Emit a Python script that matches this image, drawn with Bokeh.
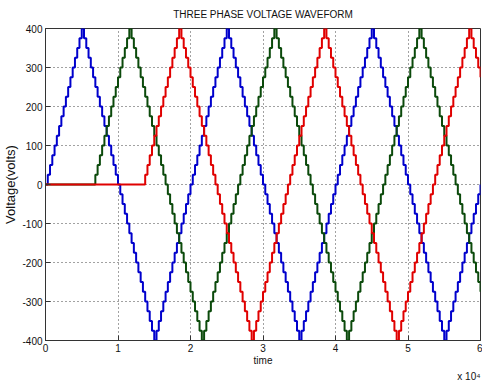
import numpy as np
from bokeh.plotting import figure
from bokeh.models import Range1d, FixedTicker, Title
from bokeh.embed import file_html
from bokeh.resources import INLINE

# ---------------- data ----------------
title_text = "THREE PHASE VOLTAGE WAVEFORM"
x_label = "time"
y_label = "Voltage(volts)"
x_scale_note = "x 10\u2074"
x_ticks = [0, 10000, 20000, 30000, 40000, 50000, 60000]
x_tick_labels = ["0", "1", "2", "3", "4", "5", "6"]
y_ticks = [-400, -300, -200, -100, 0, 100, 200, 300, 400]
y_tick_labels = ["-400", "-300", "-200", "-100", "0", "100", "200", "300", "400"]

# sample instants (uniform sampling grid of the staircase waveform)
time = np.arange(193) * 312.5

phase_a_blue = [
    0, 25, 50, 75, 100, 125, 150, 175, 200, 225, 250, 275, 300, 325, 350, 375,
    400, 375, 350, 325, 300, 275, 250, 225, 200, 175, 150, 125, 100, 75, 50, 25,
    0, -25, -50, -75, -100, -125, -150, -175, -200, -225, -250, -275, -300, -325, -350, -375,
    -400, -375, -350, -325, -300, -275, -250, -225, -200, -175, -150, -125, -100, -75, -50, -25,
    0, 25, 50, 75, 100, 125, 150, 175, 200, 225, 250, 275, 300, 325, 350, 375,
    400, 375, 350, 325, 300, 275, 250, 225, 200, 175, 150, 125, 100, 75, 50, 25,
    0, -25, -50, -75, -100, -125, -150, -175, -200, -225, -250, -275, -300, -325, -350, -375,
    -400, -375, -350, -325, -300, -275, -250, -225, -200, -175, -150, -125, -100, -75, -50, -25,
    0, 25, 50, 75, 100, 125, 150, 175, 200, 225, 250, 275, 300, 325, 350, 375,
    400, 375, 350, 325, 300, 275, 250, 225, 200, 175, 150, 125, 100, 75, 50, 25,
    0, -25, -50, -75, -100, -125, -150, -175, -200, -225, -250, -275, -300, -325, -350, -375,
    -400, -375, -350, -325, -300, -275, -250, -225, -200, -175, -150, -125, -100, -75, -50, -25,
    0,
]

phase_b_green = [
    0, 0, 0, 0, 0, 0, 0, 0, 0, 0, 0, 0, 0, 0, 0, 0, 0, 0, 0, 0, 0,
    0, 25, 50, 75, 100, 125, 150, 175, 200, 225, 250, 275, 300, 325, 350, 375,
    400, 375, 350, 325, 300, 275, 250, 225, 200, 175, 150, 125, 100, 75, 50, 25,
    0, -25, -50, -75, -100, -125, -150, -175, -200, -225, -250, -275, -300, -325, -350, -375,
    -400, -375, -350, -325, -300, -275, -250, -225, -200, -175, -150, -125, -100, -75, -50, -25,
    0, 25, 50, 75, 100, 125, 150, 175, 200, 225, 250, 275, 300, 325, 350, 375,
    400, 375, 350, 325, 300, 275, 250, 225, 200, 175, 150, 125, 100, 75, 50, 25,
    0, -25, -50, -75, -100, -125, -150, -175, -200, -225, -250, -275, -300, -325, -350, -375,
    -400, -375, -350, -325, -300, -275, -250, -225, -200, -175, -150, -125, -100, -75, -50, -25,
    0, 25, 50, 75, 100, 125, 150, 175, 200, 225, 250, 275, 300, 325, 350, 375,
    400, 375, 350, 325, 300, 275, 250, 225, 200, 175, 150, 125, 100, 75, 50, 25,
    0, -25, -50, -75, -100, -125, -150, -175, -200, -225, -250, -275,
]

phase_c_red = [
    0, 0, 0, 0, 0, 0, 0, 0, 0, 0, 0, 0, 0, 0, 0, 0, 0, 0, 0, 0,
    0, 0, 0, 0, 0, 0, 0, 0, 0, 0, 0, 0, 0, 0, 0, 0, 0, 0, 0, 0, 0, 0, 0,
    0, 25, 50, 75, 100, 125, 150, 175, 200, 225, 250, 275, 300, 325, 350, 375,
    400, 375, 350, 325, 300, 275, 250, 225, 200, 175, 150, 125, 100, 75, 50, 25,
    0, -25, -50, -75, -100, -125, -150, -175, -200, -225, -250, -275, -300, -325, -350, -375,
    -400, -375, -350, -325, -300, -275, -250, -225, -200, -175, -150, -125, -100, -75, -50, -25,
    0, 25, 50, 75, 100, 125, 150, 175, 200, 225, 250, 275, 300, 325, 350, 375,
    400, 375, 350, 325, 300, 275, 250, 225, 200, 175, 150, 125, 100, 75, 50, 25,
    0, -25, -50, -75, -100, -125, -150, -175, -200, -225, -250, -275, -300, -325, -350, -375,
    -400, -375, -350, -325, -300, -275, -250, -225, -200, -175, -150, -125, -100, -75, -50, -25,
    0, 25, 50, 75, 100, 125, 150, 175, 200, 225, 250, 275, 300, 325, 350, 375,
    400, 375, 350, 325, 300, 275,
]

# ---------------- figure ----------------
FONT = "Liberation Sans"
AX = "#333333"
TXT = "#111111"

p = figure(width=482, height=381, output_backend="svg", toolbar_location=None,
           x_range=Range1d(x_ticks[0], x_ticks[-1]),
           y_range=Range1d(y_ticks[0], y_ticks[-1]),
           min_border_left=44, min_border_right=2,
           min_border_top=28, min_border_bottom=39)
p.background_fill_color = "white"
p.border_fill_color = "white"
p.outline_line_color = AX
p.outline_line_width = 1

p.title.text = title_text
p.title.align = "center"
p.title.vertical_align = "top"
p.title.text_font = FONT
p.title.text_font_size = "10px"
p.title.text_font_style = "normal"
p.title.text_color = TXT
p.title.offset = 0
p.title.standoff = 14

xt = FixedTicker(ticks=x_ticks)
yt = FixedTicker(ticks=y_ticks)

for ax in (p.xaxis[0], p.yaxis[0]):
    ax.major_tick_in = 5
    ax.major_tick_out = 0
    ax.minor_tick_line_color = None
    ax.axis_line_color = AX
    ax.major_tick_line_color = AX
    ax.major_label_text_font = FONT
    ax.major_label_text_font_size = "10px"
    ax.major_label_text_color = TXT
    ax.axis_label_text_font = FONT
    ax.axis_label_text_font_size = "10px"
    ax.axis_label_text_font_style = "normal"
    ax.axis_label_text_color = TXT

p.xaxis[0].ticker = xt
p.xaxis[0].major_label_overrides = dict(zip(x_ticks, x_tick_labels))
p.xaxis[0].axis_label = x_label
p.xaxis[0].major_label_standoff = 3
p.xaxis[0].axis_label_standoff = 0

p.yaxis[0].ticker = yt
p.yaxis[0].major_label_overrides = dict(zip(y_ticks, y_tick_labels))
p.yaxis[0].axis_label = y_label
p.yaxis[0].axis_label_text_font_size = "13px"
p.yaxis[0].major_label_standoff = 3
p.yaxis[0].axis_label_standoff = 1

p.xgrid.ticker = xt
p.ygrid.ticker = yt
for g in (p.xgrid[0], p.ygrid[0]):
    g.grid_line_color = "#444444"
    g.grid_line_dash = "1 3"
    g.grid_line_width = 1

p.step(time, phase_a_blue, mode="after", line_color="#0000cc", line_width=2)
p.step(time, phase_b_green, mode="after", line_color="#0b4a0b", line_width=2)
p.step(time, phase_c_red, mode="after", line_color="#e00000", line_width=2)

p.add_layout(Title(text=x_scale_note, align="right", text_font=FONT,
                   text_font_size="10px", text_font_style="normal",
                   text_color=TXT, standoff=0, offset=0), "below")

open("out.html", "w").write(file_html(p, INLINE))
